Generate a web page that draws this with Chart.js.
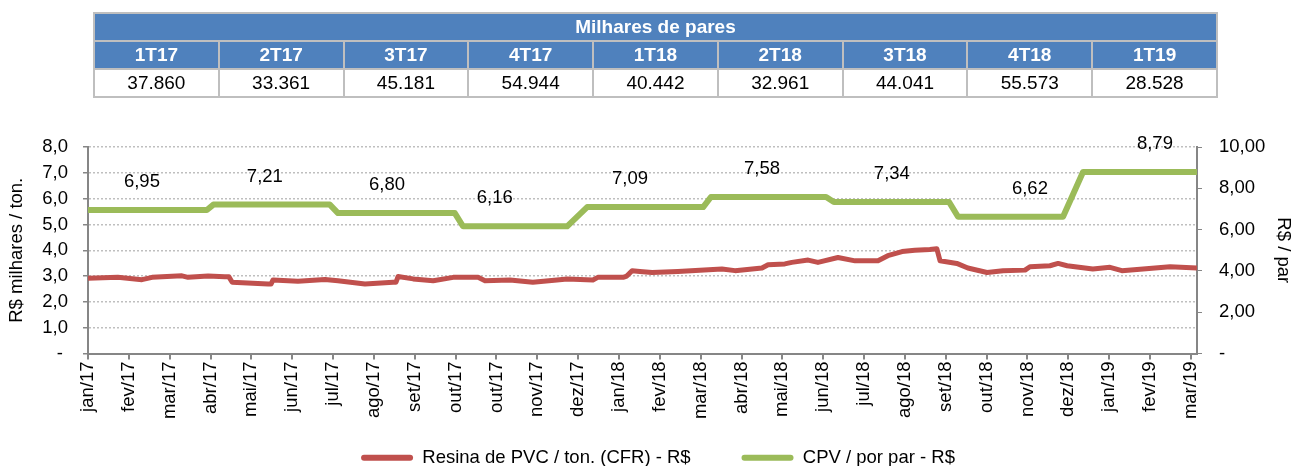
<!DOCTYPE html>
<html lang="pt-BR">
<head>
<meta charset="utf-8">
<title>Resina de PVC x CPV por par</title>
<script src="https://cdn.jsdelivr.net/npm/chart.js"></script>
<style>
  html, body { margin: 0; padding: 0; background: #fff; }
  body { width: 1296px; height: 466px; position: relative; overflow: hidden; font-family: "Liberation Sans", Arial, sans-serif; }
  #wrap { position: absolute; left: 0; top: 0; width: 1296px; height: 466px; }
  #qtable { position: absolute; left: 93px; top: 12px; width: 1125px; border-collapse: collapse; table-layout: fixed; }
  #qtable th, #qtable td { border: 2px solid #BFBFBF; padding: 0; text-align: center; height: 26px; line-height: 22px; }
  #qtable th { background: #4F81BD; color: #fff; font-size: 19px; font-weight: bold; }
  #qtable td { background: #fff; color: #000; font-size: 19px; }
</style>
</head>
<body>
<div id="wrap"><canvas id="chart"></canvas></div>
<table id="qtable">
  <thead>
    <tr><th id="qtitle"></th></tr>
    <tr id="qhead"></tr>
  </thead>
  <tbody><tr id="qvals"></tr></tbody>
</table>
<script>
// tabela trimestral
const tableTitle = "Milhares de pares";
const quarters = ["1T17", "2T17", "3T17", "4T17", "1T18", "2T18", "3T18", "4T18", "1T19"];
const pairs = ["37.860", "33.361", "45.181", "54.944", "40.442", "32.961", "44.041", "55.573", "28.528"];

// rótulos do eixo x (um por marca)
const months = ["jan/17", "fev/17", "mar/17", "abr/17", "mai/17", "jun/17", "jul/17", "ago/17", "set/17",
  "out/17", "out/17", "nov/17", "dez/17", "jan/18", "fev/18", "mar/18", "abr/18", "mai/18", "jun/18",
  "jul/18", "ago/18", "set/18", "out/18", "nov/18", "dez/18", "jan/19", "fev/19", "mar/19"];

// Resina de PVC (R$ mil / ton) - posição em marcas do eixo x
const resinaX = [0, 0.73, 1.32, 1.57, 2.30, 2.45, 2.94, 3.35, 3.45, 3.53, 4.41, 4.48, 4.53, 5.14, 5.80, 6.12,
  6.78, 7.47, 7.54, 7.59, 7.96, 8.45, 8.94, 9.55, 9.72, 10.33, 10.89, 11.48, 11.73, 12.36, 12.48, 13.10,
  13.19, 13.32, 13.51, 13.81, 14.44, 15.52, 15.84, 16.50, 16.65, 17.06, 17.23, 17.63, 17.87, 18.36, 18.78,
  19.34, 19.58, 19.93, 20.24, 20.61, 20.78, 20.86, 21.27, 21.54, 22.01, 22.40, 22.94, 23.06, 23.55, 23.75,
  23.97, 24.60, 25.02, 25.31, 25.83, 26.49, 27.15];
const resinaY = [2.92, 2.95, 2.86, 2.95, 3.01, 2.95, 3.00, 2.97, 2.97, 2.76, 2.69, 2.69, 2.85, 2.80, 2.87, 2.82,
  2.69, 2.76, 2.76, 2.98, 2.89, 2.82, 2.95, 2.95, 2.82, 2.85, 2.76, 2.85, 2.89, 2.85, 2.95, 2.95,
  3.00, 3.21, 3.18, 3.14, 3.18, 3.27, 3.21, 3.31, 3.44, 3.47, 3.53, 3.62, 3.53, 3.72, 3.59,
  3.59, 3.79, 3.95, 4.00, 4.03, 4.06, 3.59, 3.49, 3.31, 3.14, 3.21, 3.23, 3.36, 3.40, 3.49,
  3.40, 3.27, 3.34, 3.21, 3.27, 3.36, 3.31];

// CPV por par (R$)
const cpvX = [0, 2.91, 3.07, 5.92, 6.12, 8.98, 9.18, 11.73, 12.22, 15.06, 15.25, 18.07, 18.26, 21.08, 21.30, 23.87, 24.36, 27.15];
const cpvY = [6.95, 6.95, 7.21, 7.21, 6.80, 6.80, 6.16, 6.16, 7.09, 7.09, 7.58, 7.58, 7.34, 7.34, 6.62, 6.62, 8.79, 8.79];
const cpvQuarter = [6.95, 7.21, 6.80, 6.16, 7.09, 7.58, 7.34, 6.62, 8.79];
const cpvLabelX = [1.32, 4.33, 7.32, 9.96, 13.27, 16.50, 19.68, 23.06, 26.12];

// monta a tabela
document.getElementById("qtitle").colSpan = quarters.length;
document.getElementById("qtitle").textContent = tableTitle;
quarters.forEach((q, i) => {
  const th = document.createElement("th"); th.textContent = q;
  document.getElementById("qhead").appendChild(th);
  const td = document.createElement("td"); td.textContent = pairs[i];
  document.getElementById("qvals").appendChild(td);
});

const fmt = (v, d) => v === 0 ? "-" : v.toFixed(d).replace(".", ",");

const cpvLabels = {
  id: "cpvLabels",
  afterDatasetsDraw(chart) {
    const ctx = chart.ctx, xs = chart.scales.x, ys = chart.scales.y2;
    ctx.save();
    ctx.font = "18.5px 'Liberation Sans', Arial, sans-serif";
    ctx.fillStyle = "#000";
    ctx.textAlign = "center";
    ctx.textBaseline = "middle";
    cpvQuarter.forEach((v, i) => {
      ctx.fillText(fmt(v, 2), xs.getPixelForValue(cpvLabelX[i]), ys.getPixelForValue(v) - 28);
    });
    ctx.restore();
  }
};

Chart.defaults.font.family = "'Liberation Sans', Arial, sans-serif";
Chart.defaults.font.size = 18.5;
Chart.defaults.color = "#000";

new Chart(document.getElementById("chart"), {
  type: "line",
  data: {
    datasets: [{
      label: "Resina de PVC / ton. (CFR) - R$",
      data: resinaX.map((x, i) => ({x: x, y: resinaY[i]})),
      borderColor: "#C0504D",
      backgroundColor: "#C0504D",
      borderWidth: 5,
      pointRadius: 0,
      tension: 0,
      borderJoinStyle: "round",
      yAxisID: "y"
    }, {
      label: "CPV / por par - R$",
      data: cpvX.map((x, i) => ({x: x, y: cpvY[i]})),
      borderColor: "#9BBB59",
      backgroundColor: "#9BBB59",
      borderWidth: 6,
      pointRadius: 0,
      tension: 0,
      borderJoinStyle: "round",
      yAxisID: "y2"
    }]
  },
  options: {
    responsive: true,
    maintainAspectRatio: false,
    animation: false,
    layout: { padding: { top: 147, left: 4, right: -16, bottom: -11 } },
    plugins: {
      tooltip: { enabled: false },
      legend: {
        position: "bottom",
        labels: {
          boxWidth: 52,
          boxHeight: 6,
          padding: 0,
          generateLabels(chart) {
            return Chart.defaults.plugins.legend.labels.generateLabels(chart).map((l, i) => {
              l.lineWidth = 0; l.borderRadius = 3;
              if (i === 0) l.text += "\u2002\u2002\u2002\u2002\u2002\u2005";  // espaço entre itens
              return l;
            });
          }
        }
      }
    },
    scales: {
      x: {
        type: "linear",
        min: 0,
        max: 27.15,
        afterFit(s) { s.height = 95; },
        border: { display: true, color: "#868686", width: 2 },
        grid: { drawOnChartArea: false, drawTicks: true, tickLength: 6, color: "#868686", lineWidth: 2 },
        ticks: {
          stepSize: 1,
          includeBounds: false,
          autoSkip: false,
          minRotation: 90,
          maxRotation: 90,
          padding: 2,
          callback: v => months[v] || ""
        }
      },
      y: {
        position: "left",
        min: 0,
        max: 8,
        afterFit(s) { s.width = 84; },
        border: { display: true, color: "#868686", width: 2, dash: [2, 2] },
        grid: { color: "#BFBFBF", lineWidth: 1.5, tickLength: 5, tickColor: "#868686", tickBorderDash: [] },
        ticks: { stepSize: 1, autoSkip: false, padding: 15, callback: v => v === 0 ? "- " : fmt(v, 1) },
        title: { display: true, text: "R$ milhares / ton.", padding: 2 }
      },
      y2: {
        position: "right",
        min: 0,
        max: 10,
        afterFit(s) { s.width = 115; },
        border: { display: true, color: "#868686", width: 2 },
        grid: { drawOnChartArea: false, tickLength: 5, color: "#868686" },
        ticks: { stepSize: 2, autoSkip: false, padding: 17, callback: v => v === 0 ? "-" : fmt(v, 2) },
        title: { display: true, text: "R$ / par", padding: { top: 18, bottom: 2 } }
      }
    }
  },
  plugins: [cpvLabels]
});
</script>
</body>
</html>
